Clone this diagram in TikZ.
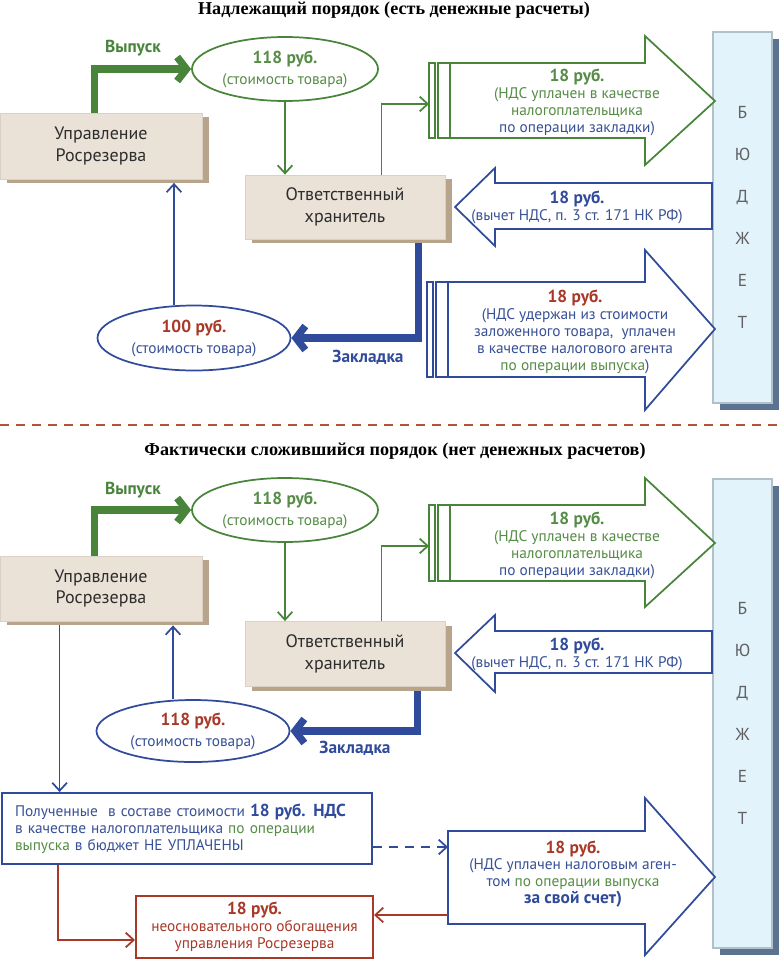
\documentclass[tikz,border=0pt]{standalone}
\usepackage{fontspec}
\setmainfont{PT Sans}
\newfontfamily\ttlfont{Liberation Serif}
\usetikzlibrary{shapes.geometric,arrows.meta,shadows}
\newdimen\pxu \pxu=0.75pt
\definecolor{gr}{RGB}{72,132,58}
\definecolor{grT}{RGB}{85,140,70}
\definecolor{bl}{RGB}{48,74,156}
\definecolor{blT}{RGB}{55,80,150}
\definecolor{rd}{RGB}{168,56,40}
\definecolor{beige}{RGB}{234,225,215}
\definecolor{beigeline}{RGB}{218,208,198}
\definecolor{tanshadow}{RGB}{183,164,138}
\definecolor{budfill}{RGB}{226,243,251}
\definecolor{budline}{RGB}{178,192,202}
\definecolor{budshadow}{RGB}{92,114,145}
\definecolor{darktext}{RGB}{45,45,45}
\definecolor{dashred}{RGB}{178,84,60}
\newcommand\fntS{\fontsize{11.5}{12.7}\selectfont}
\newcommand\fntB{\fontsize{13}{12.7}\selectfont\bfseries}
\newcommand\fntL{\fontsize{13.5}{16}\selectfont}
\newcommand\fntT{\ttlfont\fontsize{13.6}{16}\selectfont\bfseries}
\begin{document}
\begin{tikzpicture}[x=0.75pt,y=-0.75pt,
  boxn/.style={draw=beigeline, line width=0.6pt, fill=beige, text=darktext, align=center, inner sep=0pt, font=\fntL,
    general shadow={shadow xshift=7\pxu, shadow yshift=-4\pxu, fill=tanshadow}},
  budn/.style={draw=budline, line width=0.8pt, fill=budfill, text=darktext!75, align=center, inner sep=0pt,
    font=\fontsize{13}{31.5}\selectfont, minimum width=59\pxu,
    general shadow={shadow xshift=7\pxu, shadow yshift=-7\pxu, fill=budshadow}},
  elln/.style={ellipse, draw=#1, line width=1.3pt, fill=white, inner sep=0pt, align=center, font=\fntS},
  thinG/.style={draw=gr, line width=1.3pt, -{Straight Barb[length=6pt,width=11pt]}},
  thinB/.style={draw=bl, line width=1.3pt, -{Straight Barb[length=6pt,width=11pt]}},
  thinR/.style={draw=rd, line width=1.3pt, -{Straight Barb[length=6pt,width=11pt]}},
  thickG/.style={draw=gr, line width=5.5pt, -{Straight Barb[length=7pt,width=18pt]}},
  thickB/.style={draw=bl, line width=5.5pt, -{Straight Barb[length=7pt,width=18pt]}},
  gshape/.style={draw=gr, line width=1.3pt, fill=white, line join=miter},
  bshape/.style={draw=bl, line width=1.3pt, fill=white, line join=miter},
  atext/.style={font=\fntS, align=center, inner sep=0pt}
]
\useasboundingbox (0,0) rectangle (779,960);

% ================= TOP =================
\node[font=\fntT] (title1) at (394,10) {Надлежащий порядок (есть денежные расчеты)};

\node[budn, minimum height=371\pxu] (bud1) at (742.5,217.5) {Б\\Ю\\Д\\Ж\\Е\\Т};

\node[boxn, minimum width=202\pxu, minimum height=66\pxu] (upr1) at (101,146) {Управление\\Росрезерва};
\node[boxn, minimum width=200\pxu, minimum height=64\pxu] (otv1) at (345,207) {Ответственный\\хранитель};

\node[elln=gr, minimum width=186\pxu, minimum height=64\pxu, text=grT] (ell1) at (285,69)
  {{\fntB 118 руб.}\\[3pt](стоимость товара)};
\node[elln=bl, minimum width=193\pxu, minimum height=65\pxu, text=blT] (ell2) at (194,338)
  {{\fntB\color{rd}100 руб.}\\[3pt](стоимость товара)};

% green block arrow 1
\draw[gshape] (450,63) -- (645,63) -- (645,36) -- (715,101) -- (645,165) -- (645,138) -- (450,138) -- cycle;
\draw[gshape] (429,63) rectangle (435,138);
\draw[gshape] (438,63) rectangle (450,138);
\coordinate (g1in) at (429,104);
\node[atext, text=grT] (t1) at (577,102)
  {{\fntB 18 руб.}\\(НДС уплачен в качестве\\налогоплательщика\\{\color{blT}по операции закладки)}};

% blue block arrow 2
\draw[bshape] (712,183) -- (495,183) -- (495,168) -- (455,207) -- (495,246) -- (495,229) -- (712,229) -- cycle;
\node[atext, text=blT] (t2) at (577,207)
  {{\fntB\color{bl}18 руб.}\\(вычет НДС, п. 3 ст. 171 НК РФ)};

% blue block arrow 3
\draw[bshape] (448,282) -- (645,282) -- (645,250) -- (715,329) -- (645,410) -- (645,377) -- (448,377) -- cycle;
\draw[bshape] (427,282) rectangle (433,377);
\draw[bshape] (436,282) rectangle (448,377);
\node[atext, text=blT] (t3) at (575,332)
  {{\fntB\color{rd}18 руб.}\\(НДС удержан из стоимости\\заложенного товара,\ \ уплачен\\в качестве налогового агента\\{\color{grT}по операции выпуска})};

% connectors top
\draw[thickG] ([xshift=95\pxu]upr1.north west) |- (ell1.west);
\node[font=\fntB, text=gr] (vyp1) at (133,48) {Выпуск};
\draw[thinG] (ell1.south) -- (ell1.south |- otv1.north);
\draw[thinG] ([xshift=137\pxu]otv1.north west) |- (g1in);
\draw[thickB] ([xshift=174\pxu,yshift=-4\pxu]otv1.south west) |- (ell2.east);
\node[font=\fntB, text=bl] (zak1) at (368,357) {Закладка};
\draw[thinB] ([xshift=-20\pxu]ell2.north) -- ([xshift=-20\pxu,yshift=-3.5\pxu]ell2.north |- upr1.south);

% dashed separator
\coordinate (sepL) at (0,425);
\coordinate (sepR) at (779,425);
\draw[dashred, line width=1.6pt, dash pattern=on 7pt off 5pt] (sepL) -- (sepR);

% ================= BOTTOM =================
\node[font=\fntT] (title2) at (395,451) {Фактически сложившийся порядок (нет денежных расчетов)};

\node[budn, minimum height=469\pxu] (bud2) at (742.5,713.5) {Б\\Ю\\Д\\Ж\\Е\\Т};

\node[boxn, minimum width=202\pxu, minimum height=65\pxu] (upr2) at (101,588.5) {Управление\\Росрезерва};
\node[boxn, minimum width=200\pxu, minimum height=65\pxu] (otv2) at (345,654) {Ответственный\\хранитель};

\node[elln=gr, minimum width=186\pxu, minimum height=64\pxu, text=grT] (ell3) at (285,510)
  {{\fntB 118 руб.}\\[3pt](стоимость товара)};
\node[elln=bl, minimum width=193\pxu, minimum height=62\pxu, text=blT] (ell4) at (193,731)
  {{\fntB\color{rd}118 руб.}\\[3pt](стоимость товара)};

% green block arrow 1b
\draw[gshape] (450,505) -- (645,505) -- (645,478) -- (715,543) -- (645,607) -- (645,581) -- (450,581) -- cycle;
\draw[gshape] (429,505) rectangle (435,581);
\draw[gshape] (438,505) rectangle (450,581);
\coordinate (g2in) at (429,546);
\node[atext, text=grT] (t4) at (577,545)
  {{\fntB 18 руб.}\\(НДС уплачен в качестве\\налогоплательщика\\{\color{blT}по операции закладки)}};

% blue block arrow 2b
\draw[bshape] (712,631) -- (495,631) -- (495,615) -- (455,653) -- (495,692) -- (495,673) -- (712,673) -- cycle;
\node[atext, text=blT] (t5) at (577,654)
  {{\fntB\color{bl}18 руб.}\\(вычет НДС, п. 3 ст. 171 НК РФ)};

% blue block arrow 4
\draw[bshape] (448,831) -- (645,831) -- (645,798) -- (715,877) -- (645,955) -- (645,924) -- (448,924) -- cycle;
\coordinate (a4in) at (448,847);
\coordinate (a4out) at (448,915);
\node[atext, text=blT] (t6) at (573,874)
  {{\fntB\color{rd}18 руб.}\\(НДС уплачен налоговым аген-\\том {\color{grT}по операции выпуска}\\{\fntB\color{bl}за свой счет)}};

% blue rectangle
\node[draw=bl, line width=1.5pt, fill=white, text width=344\pxu, inner xsep=13\pxu, inner ysep=0pt,
      minimum height=71\pxu, align=left, font=\fntS, text=blT] (rect5) at (187,828.5)
  {Полученные\ \ в составе стоимости {\fntB\color{bl}18 руб. НДС}\\в качестве налогоплательщика {\color{grT}по операции}\\{\color{grT}выпуска} в бюджет НЕ УПЛАЧЕНЫ};

% red rectangle
\node[draw=rd, line width=1.5pt, fill=white, minimum width=237\pxu, minimum height=62\pxu, inner sep=0pt,
      align=center, font=\fntS, text=rd] (rect6) at (254.5,927)
  {{\fntB 18 руб.}\\неосновательного обогащения\\управления Росрезерва};

% connectors bottom
\draw[thickG] ([xshift=95\pxu]upr2.north west) |- (ell3.west);
\node[font=\fntB, text=gr] (vyp2) at (133,490) {Выпуск};
\draw[thinG] (ell3.south) -- (ell3.south |- otv2.north);
\draw[thinG] ([xshift=137\pxu]otv2.north west) |- (g2in);
\draw[thickB] ([xshift=173\pxu,yshift=-4\pxu]otv2.south west) |- (ell4.east);
\node[font=\fntB, text=bl] (zak2) at (355,748) {Закладка};
\draw[thinB] ([xshift=-20\pxu]ell4.north) -- ([xshift=-20\pxu,yshift=-4\pxu]ell4.north |- upr2.south);
\draw[thinB] ([xshift=60\pxu,yshift=-4\pxu]upr2.south west) -- ([xshift=60\pxu]upr2.south west |- rect5.north);
\draw[thinB, dash pattern=on 7pt off 5pt] (rect5.east |- a4in) -- (a4in);
\draw[thinR] (a4out) -- (a4out -| rect6.east);
\draw[thinR] ([xshift=57\pxu]rect5.south west) |- ([yshift=-13\pxu]rect6.west);
\end{tikzpicture}
\end{document}
